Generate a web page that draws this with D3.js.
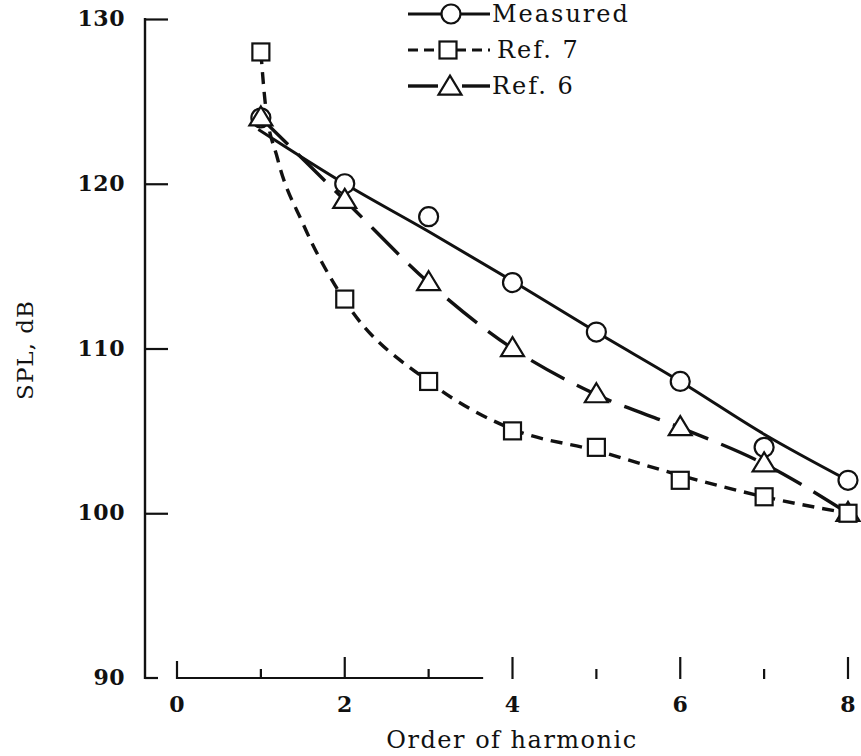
<!DOCTYPE html>
<html>
<head>
<meta charset="utf-8">
<script src="https://cdn.jsdelivr.net/npm/d3@7"></script>
<style>
  html, body { margin: 0; padding: 0; background: #fff; }
  svg text { font-family: "DejaVu Serif", "Liberation Serif", serif; fill: #111; }
</style>
</head>
<body>
<svg id="chart" width="861" height="756"></svg>
<script>
// Harmonic order and sound pressure level (dB) for each series
const harmonics = [1, 2, 3, 4, 5, 6, 7, 8];
const measured = [124, 120, 118, 114, 111, 108, 104, 102];
const ref7 = [128, 113, 108, 105, 104, 102, 101, 100];
const ref6 = [124, 119, 114, 110, 107.2, 105.2, 103, 100];

// Faired curves drawn through the data
const measuredCurveX = [0.97, 2, 3, 4, 5, 6, 7, 8];
const measuredCurveY = [123.3, 120, 117.1, 114.1, 111, 108, 104.8, 102];
const ref7CurveX = [1, 1.05, 1.2, 1.5, 2, 3, 4, 5, 6, 7, 8];
const ref7CurveY = [128, 125, 121.5, 117.6, 112.9, 108, 105.1, 103.8, 102.3, 101, 100];
const ref6CurveX = harmonics;
const ref6CurveY = ref6;

// Axis ticks
const yTicks = [90, 100, 110, 120, 130];
const xTicks = [0, 1, 2, 3, 4, 5, 6, 7, 8];
const xTickLabels = ["0", "2", "4", "6", "8"];

const svg = d3.select("#chart");
const ink = "#111";

const x = d3.scaleLinear().domain([0, 8]).range([177, 848]);
const y = d3.scaleLinear().domain([90, 130]).range([678, 19]);
const yAxisX = 145;

// ---- Y axis: vertical rule with inward ticks
const yAxis = d3.axisRight(y)
  .tickValues(yTicks.filter(v => v > 90))
  .tickSize(23)
  .tickFormat("");
const gy = svg.append("g").attr("transform", `translate(${yAxisX},0)`).call(yAxis);
gy.select(".domain").remove();
gy.selectAll(".tick line").attr("stroke", ink).attr("stroke-width", 2.2);
svg.append("line")
  .attr("x1", yAxisX).attr("x2", yAxisX)
  .attr("y1", y(130) - 1).attr("y2", y(90) + 1)
  .attr("stroke", ink).attr("stroke-width", 2.4);
svg.append("line")
  .attr("x1", yAxisX).attr("x2", yAxisX + 13)
  .attr("y1", y(90)).attr("y2", y(90))
  .attr("stroke", ink).attr("stroke-width", 2.2);

// y tick labels
svg.append("g").selectAll("text").data(yTicks).join("text")
  .attr("x", 125).attr("y", d => y(d) + 1)
  .attr("text-anchor", "end")
  .attr("dominant-baseline", "middle")
  .attr("font-size", 22).attr("font-weight", "bold")
  .attr("letter-spacing", 0.5)
  .text(d => d);

// ---- X axis: partial base line with upward ticks
svg.append("line")
  .attr("x1", x(0)).attr("x2", x(3.65))
  .attr("y1", y(90)).attr("y2", y(90))
  .attr("stroke", ink).attr("stroke-width", 2);
svg.append("g").selectAll("line").data(xTicks).join("line")
  .attr("x1", d => x(d)).attr("x2", d => x(d))
  .attr("y1", y(90) + 1)
  .attr("y2", d => y(90) - (d === 0 ? 17 : d % 2 === 0 ? 21 : 9))
  .attr("stroke", ink).attr("stroke-width", 2.2);
svg.append("g").selectAll("text").data(xTickLabels).join("text")
  .attr("x", d => x(+d)).attr("y", 706)
  .attr("text-anchor", "middle")
  .attr("dominant-baseline", "middle")
  .attr("font-size", 22).attr("font-weight", "bold")
  .text(d => d);

// axis titles
svg.append("text")
  .attr("x", 512).attr("y", 741)
  .attr("text-anchor", "middle").attr("dominant-baseline", "middle")
  .attr("font-size", 24).attr("letter-spacing", 1.5)
  .text("Order of harmonic");
svg.append("text")
  .attr("transform", "translate(27,350) rotate(-90)")
  .attr("text-anchor", "middle").attr("dominant-baseline", "middle")
  .attr("font-size", 23).attr("letter-spacing", 1)
  .text("SPL, dB");

// ---- Curves
const line = d3.line().x(d => x(d[0])).y(d => y(d[1])).curve(d3.curveMonotoneX);
const zip = (xs, ys) => xs.map((v, i) => [v, ys[i]]);

svg.append("path").datum(zip(measuredCurveX, measuredCurveY))
  .attr("d", line).attr("fill", "none")
  .attr("stroke", ink).attr("stroke-width", 3);
svg.append("path").datum(zip(ref7CurveX, ref7CurveY))
  .attr("d", line).attr("fill", "none")
  .attr("stroke", ink).attr("stroke-width", 3.4)
  .attr("stroke-dasharray", "12,8");
svg.append("path").datum(zip(ref6CurveX, ref6CurveY))
  .attr("d", line).attr("fill", "none")
  .attr("stroke", ink).attr("stroke-width", 3.4)
  .attr("stroke-dasharray", "38,14");

// ---- Markers
const circleR = 9.5, squareS = 17, triW = 23, triH = 19;
const triPath = (cx, cy) =>
  `M${cx},${cy - triH * 0.6}L${cx + triW / 2},${cy + triH * 0.4}L${cx - triW / 2},${cy + triH * 0.4}Z`;

const markers = svg.append("g")
  .attr("fill", "#fff").attr("stroke", ink).attr("stroke-width", 2.2);

markers.selectAll("circle.m").data(harmonics).join("circle")
  .attr("class", "m")
  .attr("cx", d => x(d)).attr("cy", (d, i) => y(measured[i]))
  .attr("r", circleR);
markers.selectAll("path.t").data(harmonics).join("path")
  .attr("class", "t")
  .attr("d", (d, i) => triPath(x(d), y(ref6[i])));
markers.selectAll("rect.s").data(harmonics).join("rect")
  .attr("class", "s")
  .attr("x", d => x(d) - squareS / 2).attr("y", (d, i) => y(ref7[i]) - squareS / 2)
  .attr("width", squareS).attr("height", squareS);

// ---- Legend
const legend = svg.append("g");
const legendRows = [
  { label: "Measured", y: 14, dash: null, marker: "circle", textX: 492 },
  { label: "Ref. 7", y: 50, dash: "10,6", marker: "square", textX: 497 },
  { label: "Ref. 6", y: 86, dash: null, marker: "triangle", textX: 492 }
];
legendRows.forEach(r => {
  if (r.marker === "triangle") {
    [[408, 438], [462, 490]].forEach(([a, b]) =>
      legend.append("line").attr("x1", a).attr("x2", b).attr("y1", r.y).attr("y2", r.y)
        .attr("stroke", ink).attr("stroke-width", 3.4));
  } else {
    legend.append("line").attr("x1", 408).attr("x2", 490).attr("y1", r.y).attr("y2", r.y)
      .attr("stroke", ink).attr("stroke-width", 3)
      .attr("stroke-dasharray", r.dash);
  }
  const g = legend.append("g").attr("fill", "#fff").attr("stroke", ink).attr("stroke-width", 2.2);
  if (r.marker === "circle") g.append("circle").attr("cx", 451).attr("cy", r.y).attr("r", circleR);
  if (r.marker === "square") g.append("rect").attr("x", 448 - squareS / 2).attr("y", r.y - squareS / 2)
    .attr("width", squareS).attr("height", squareS);
  if (r.marker === "triangle") g.append("path").attr("d", triPath(450, r.y + 1));
  legend.append("text").attr("x", r.textX).attr("y", r.y + 1)
    .attr("dominant-baseline", "middle")
    .attr("font-size", 24).attr("letter-spacing", 2)
    .text(r.label);
});
</script>
</body>
</html>
